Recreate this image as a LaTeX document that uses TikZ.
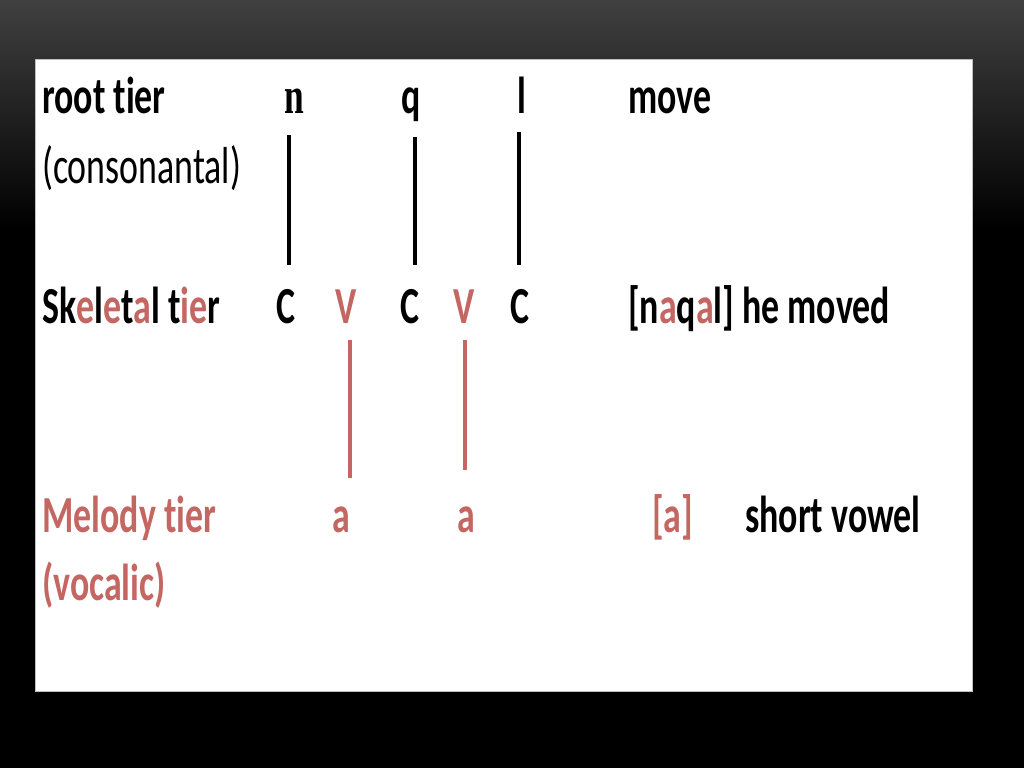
\documentclass[tikz,border=0pt]{standalone}
\usepackage{fontspec}
\setmainfont{Carlito}[FakeStretch=0.69, Ligatures=NoCommon]
\newfontfamily\serifn{Liberation Serif}[FakeStretch=0.68]
\usetikzlibrary{calc}
\definecolor{tierred}{RGB}{196,102,97}
\tikzset{
  lab/.style={inner sep=0pt, font=\fontsize{52}{60}\selectfont\bfseries},
  labreg/.style={inner sep=0pt, font=\fontsize{52}{60}\selectfont},
  redlab/.style={lab, text=tierred},
  blackline/.style={line width=3.2pt, black},
  redline/.style={line width=3.2pt, tierred},
}
\begin{document}
\begin{tikzpicture}[x=1pt,y=-1pt]
\useasboundingbox (0,0) rectangle (1024,768);
% background
\fill[black] (0,0) rectangle (1024,768);
\shade[top color={rgb,255:red,64;green,64;blue,64}, bottom color=black] (0,0) rectangle (1024,230);
\fill[black] (0,229) rectangle (1024,768);
\filldraw[fill=white, draw=gray!50, line width=0.8pt] (35,59) rectangle (972,691);

% root tier
\node[lab, anchor=base west] (roottier) at (42,113) {root tier};
\node[labreg, anchor=base west] (cons) at (42,183) {(consonantal)};
\node[inner sep=0pt, anchor=base, font=\fontsize{52}{60}\selectfont\serifn\bfseries] (n) at (294,113) {n};
\node[lab, anchor=base] (q) at (411,113) {q};
\node[lab, anchor=base] (l) at (522,113) {l};
\node[lab, anchor=base west] (move) at (628,113) {move};

% skeletal tier
\node[lab, anchor=base west] (skel) at (42,323) {Sk\textcolor{tierred}{e}l\textcolor{tierred}{e}t\textcolor{tierred}{a}l t\textcolor{tierred}{ie}r};
\node[lab, anchor=base] (C1) at (286,323) {C};
\node[redlab, anchor=base] (V1) at (346,323) {V};
\node[lab, anchor=base] (C2) at (410,323) {C};
\node[redlab, anchor=base] (V2) at (464,323) {V};
\node[lab, anchor=base] (C3) at (520,323) {C};
\node[lab, anchor=base west] (naqal) at (628,323) {[n\textcolor{tierred}{a}q\textcolor{tierred}{a}l] he moved};

% melody tier
\node[redlab, anchor=base west] (melody) at (42,532) {Melody tier};
\node[redlab, anchor=base west] (vocalic) at (42,600) {(vocalic)};
\node[redlab, anchor=base] (a1) at (341,532) {a};
\node[redlab, anchor=base] (a2) at (466,532) {a};
\node[redlab, anchor=base west] (abr) at (652,532) {[a]};
\node[lab, anchor=base west] (short) at (745,532) {short vowel};

% association lines
\path (n.south) ++(-5,22) coordinate (t1);
\path (q.south) ++(4,16) coordinate (t2);
\path (l.south) ++(-3,19) coordinate (t3);
\draw[blackline, shorten >=24pt] (t1) -- (t1 |- C1.north);
\draw[blackline, shorten >=24pt] (t2) -- (t2 |- C2.north);
\draw[blackline, shorten >=24pt] (t3) -- (t3 |- C3.north);
\path (V1.south) ++(4,17) coordinate (v1);
\path (V2.south) ++(1,17) coordinate (v2);
\draw[redline, shorten >=28pt] (v1) -- (v1 |- a1.north);
\draw[redline, shorten >=36pt] (v2) -- (v2 |- a2.north);
\end{tikzpicture}
\end{document}
